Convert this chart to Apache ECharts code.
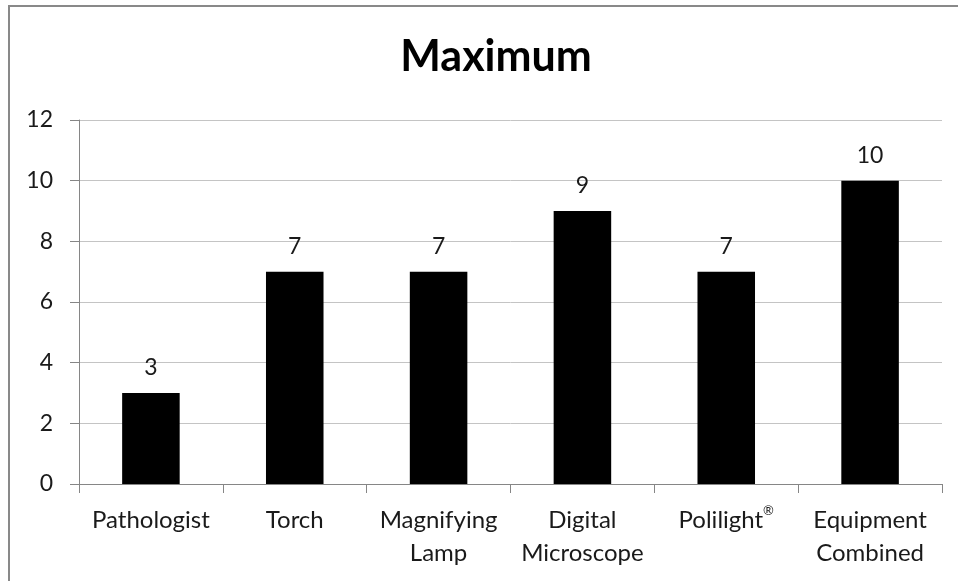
<!DOCTYPE html>
<html>
<head>
<meta charset="utf-8">
<script src="https://cdn.jsdelivr.net/npm/echarts@6/dist/echarts.min.js"></script>
<style>
  html, body { margin: 0; padding: 0; background: #fff; }
  #chart { width: 958px; height: 581px; }
</style>
</head>
<body>
<div id="chart"></div>
<script>
// Categories and maximum counts
const categories = ['Pathologist', 'Torch', 'Magnifying\nLamp', 'Digital\nMicroscope', 'Polilight®', 'Equipment\nCombined'];
const maxValues = [3, 7, 7, 9, 7, 10];
const yTicks = { min: 0, max: 12, interval: 2 };

const FONT = 'Lato, "Liberation Sans", sans-serif';
const chart = echarts.init(document.getElementById('chart'), null, { renderer: 'canvas' });

chart.setOption({
  backgroundColor: '#ffffff',
  animation: false,
  title: {
    text: 'Maximum',
    left: 491,
    top: 31,
    textAlign: 'center',
    textStyle: { fontFamily: FONT, fontWeight: 'bold', fontSize: 43, color: '#000' }
  },
  graphic: [{
    type: 'rect',
    shape: { x: 9, y: 6, width: 1000, height: 1000 },
    style: { fill: 'none', stroke: '#898989', lineWidth: 2 },
    silent: true
  }],
  grid: { left: 79, right: 16, top: 120, bottom: 97, containLabel: false },
  xAxis: {
    type: 'category',
    data: categories,
    axisLine: { lineStyle: { color: '#868686', width: 1 } },
    axisTick: { show: true, length: 9, lineStyle: { color: '#868686' } },
    axisLabel: {
      fontFamily: FONT, fontSize: 24, color: '#1a1a1a', margin: 20, lineHeight: 33, interval: 0,
      // registered mark set as a small superscript
      formatter: v => v.replace('®', '{sup|®}'),
      rich: { sup: { fontFamily: FONT, fontSize: 13, color: '#1a1a1a', verticalAlign: 'top', lineHeight: 33, padding: [0, 0, 10, 0] } }
    },
    splitLine: { show: false }
  },
  yAxis: {
    type: 'value',
    min: yTicks.min,
    max: yTicks.max,
    interval: yTicks.interval,
    axisLine: { show: true, lineStyle: { color: '#868686', width: 1 } },
    axisTick: { show: true, length: 9, lineStyle: { color: '#868686' } },
    axisLabel: { fontFamily: FONT, fontSize: 23, color: '#1a1a1a', margin: 26 },
    splitLine: { lineStyle: { color: '#c4c4c4', width: 1 } }
  },
  series: [{
    type: 'bar',
    data: maxValues,
    barCategoryGap: '60%',
    itemStyle: { color: '#000' },
    label: {
      show: true,
      position: 'top',
      distance: 14,
      fontFamily: FONT,
      fontSize: 23,
      color: '#1a1a1a'
    }
  }]
});
</script>
</body>
</html>
